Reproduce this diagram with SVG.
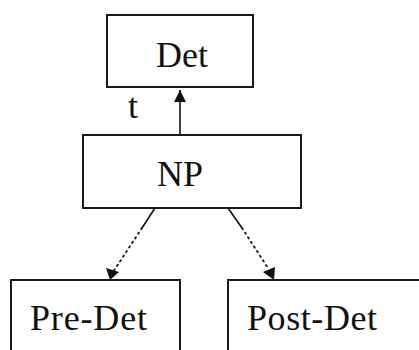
<svg xmlns="http://www.w3.org/2000/svg" width="419" height="350" viewBox="0 0 419 350">
  <style>
    .box { fill: #ffffff; stroke: #1a1a1a; stroke-width: 2; }
    .lbl { font-family: "Liberation Serif", "Times New Roman", serif; font-size: 36px; fill: #111111; }
    .edge { fill: none; stroke: #111111; stroke-width: 1.6; }
    .dots { fill: none; stroke: #111111; stroke-width: 1.8; stroke-dasharray: 1.5 4; stroke-linecap: round; }
  </style>
  <defs>
    <marker id="head" viewBox="0 0 10 10" refX="10" refY="5" markerWidth="7" markerHeight="7" markerUnits="userSpaceOnUse" orient="auto">
      <path d="M0,0 L10,5 L0,10 z" fill="#111111"/>
    </marker>
    <marker id="headBig" viewBox="0 0 10 10" refX="10" refY="5" markerWidth="13" markerHeight="12" markerUnits="userSpaceOnUse" orient="auto">
      <path d="M0,0 L10,5 L0,10 z" fill="#111111"/>
    </marker>
  </defs>
  <rect width="419" height="350" fill="#ffffff"/>

  <g id="connectors">
    <!-- NP up to Det -->
    <line class="edge" x1="180" y1="134" x2="180" y2="90" marker-end="url(#headBig)"/>
    <!-- NP down to Pre-Det: solid start, dotted tail -->
    <line class="edge" x1="155" y1="208" x2="142" y2="228"/>
    <line class="dots" x1="142" y1="228" x2="113" y2="272"/>
    <path d="M110,280 L106,268 L119,272 z" fill="#111111"/>
    <!-- NP down to Post-Det: solid start, dotted tail -->
    <line class="edge" x1="228" y1="208" x2="242" y2="228"/>
    <line class="dots" x1="242" y1="228" x2="268" y2="268"/>
    <path d="M274,280 L263,272 L275,267 z" fill="#111111"/>
  </g>

  <g id="det">
    <rect class="box" x="107" y="15" width="146" height="72"/>
    <text class="lbl" x="182" y="67" text-anchor="middle">Det</text>
  </g>

  <text class="lbl" x="128" y="118">t</text>

  <g id="np">
    <rect class="box" x="83" y="135" width="218" height="73"/>
    <text class="lbl" x="180" y="186" text-anchor="middle">NP</text>
  </g>

  <g id="pre-det">
    <rect class="box" x="11" y="280" width="169" height="80"/>
    <text class="lbl" x="30" y="330" textLength="117">Pre-Det</text>
  </g>

  <g id="post-det">
    <rect class="box" x="228" y="280" width="200" height="80"/>
    <text class="lbl" x="247" y="330" textLength="130">Post-Det</text>
  </g>
</svg>
